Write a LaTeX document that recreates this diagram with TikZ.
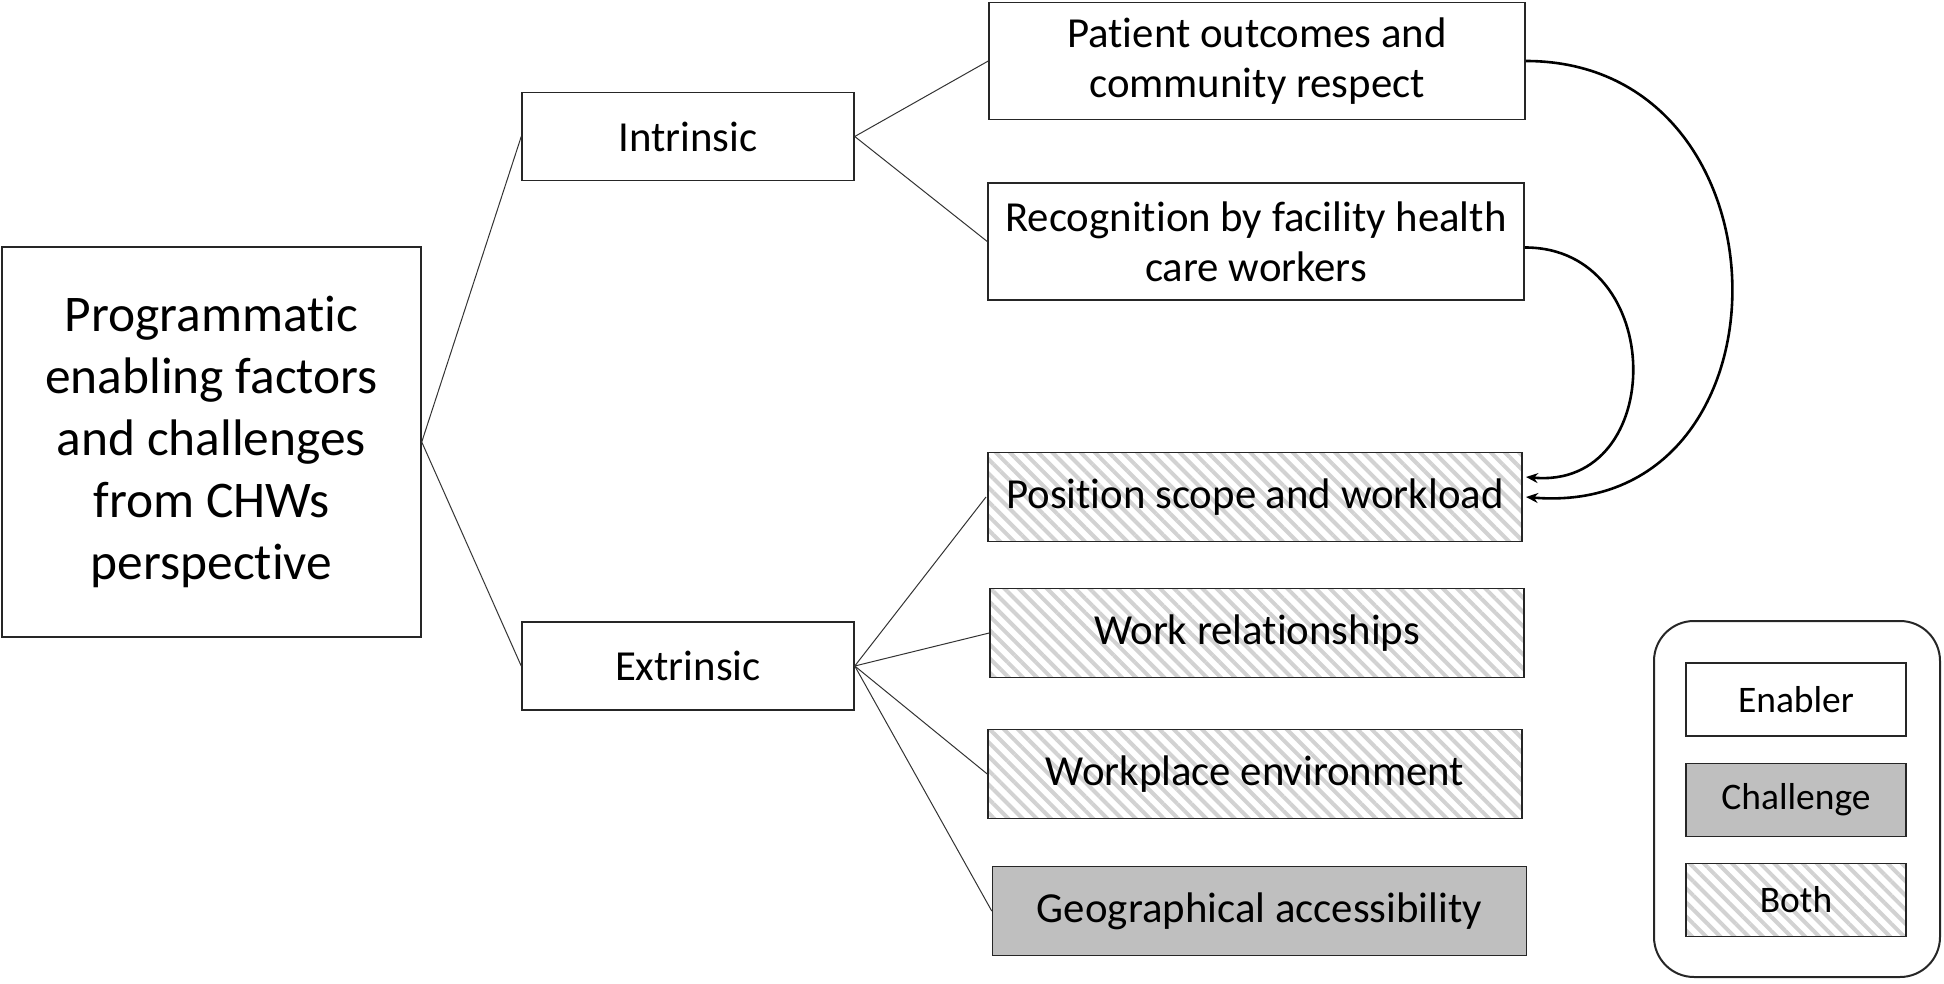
\documentclass[tikz,border=0pt]{standalone}
\usepackage{fontspec}
\setmainfont{Carlito}[RawFeature={-liga;-clig;-dlig}]
\usetikzlibrary{patterns.meta,arrows.meta}
\definecolor{chal}{HTML}{BFBFBF}
\definecolor{hatch}{HTML}{D2D2D2}
\begin{document}
\begin{tikzpicture}[x=0.5pt,y=-0.5pt,
 box/.style={draw=black!85,line width=0.75pt,inner sep=0pt,align=center,font=\fontsize{21.4}{25}\selectfont},
 wide/.style={box,minimum width=267pt,minimum height=44.5pt},
 tall/.style={box,minimum width=268pt,minimum height=58.5pt},
 mid/.style={box,minimum width=166pt,minimum height=44pt},
 leg/.style={box,minimum width=110pt,minimum height=36.5pt,font=\fontsize{18.75}{22}\selectfont},
 hatched/.style={pattern={Lines[angle=-45,distance=5pt,line width=2pt]},pattern color=hatch},
 chfill/.style={fill=chal},
 link/.style={line width=0.5pt,black!80},
 arr/.style={line width=1.3pt,-{Stealth[length=6pt,width=5pt]}}]
\useasboundingbox (0,0) rectangle (1944,984);

\node[box,minimum width=209.5pt,minimum height=195pt,font=\fontsize{25.7}{31}\selectfont] (main) at (211.5,442)
  {Programmatic\\enabling factors\\and challenges\\from CHWs\\perspective};

\node[mid] (intr) at (688,136.5) {Intrinsic};
\node[mid] (extr) at (688,666) {Extrinsic};

\node[tall] (patient) at (1257,61) {Patient outcomes and\\community respect};
\node[tall] (recog) at (1256,241.5) {Recognition by facility health\\care workers};

\node[wide,hatched] (position) at (1255,497) {Position scope and workload};
\node[wide,hatched] (workrel) at (1257,633) {Work relationships};
\node[wide,hatched] (workplace) at (1255,774) {Workplace environment};
\node[wide,chfill] (geo) at (1259.5,911) {Geographical accessibility};

\draw[link] (main.east) -- (intr.west);
\draw[link] (main.east) -- (extr.west);
\draw[link] (intr.east) -- (patient.west);
\draw[link] (intr.east) -- (recog.west);
\draw[link] (extr.east) -- (position.west);
\draw[link] (extr.east) -- (workrel.west);
\draw[link] (extr.east) -- (workplace.west);
\draw[link] (extr.east) -- (geo.west);

\draw[arr] (patient.east) .. controls (1800,61) and (1800,520) .. ([xshift=1pt]position.east);
\draw[arr] ([yshift=-3pt]recog.east) .. controls (1668,247) and (1668,490) .. ([xshift=1pt,yshift=10pt]position.east);

\node[draw=black!85,line width=1pt,rounded corners=20pt,minimum width=143pt,minimum height=178pt,inner sep=0pt] (legend) at (1797,799) {};
\node[leg] (enabler) at (1796,699.5) {Enabler};
\node[leg,chfill] (challenge) at (1796,800) {Challenge};
\node[leg,hatched] (both) at (1796,900) {Both};
\end{tikzpicture}
\end{document}
